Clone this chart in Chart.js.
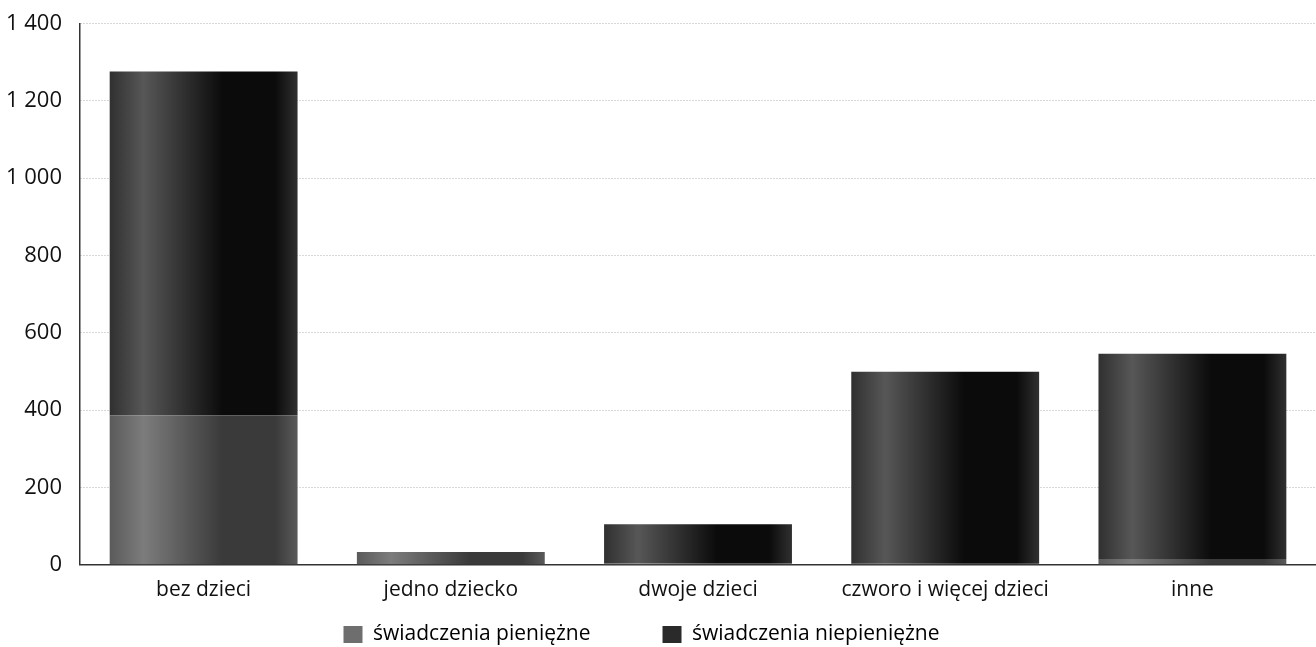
<!DOCTYPE html>
<html lang="pl">
<head>
  <meta charset="UTF-8">
  <title>Świadczenia</title>
  <script src="https://cdn.jsdelivr.net/npm/chart.js"></script>
  <style>
    body {
      margin: 0;
      background: #fff;
    }
    #wrap {
      width: 1316px;
      height: 647px;
    }
  </style>
</head>
<body>

<div id="wrap">
  <canvas id="barChart"></canvas>
</div>

<script>
const categories = ['bez dzieci', 'jedno dziecko', 'dwoje dzieci', 'czworo i więcej dzieci', 'inne'];
const pieniezne = [386, 33, 4, 3, 15];
const niepieniezne = [890, 0, 101, 496, 531];
const seriesNames = ['świadczenia pieniężne', 'świadczenia niepieniężne'];
const yTicks = [0, 200, 400, 600, 800, 1000, 1200, 1400];

const BAR_PCT = 0.76;

// shaded like a cylinder: light band near the left edge, darkest past the middle
function barFill(edge, light, dark) {
    return function(context) {
        const chart = context.chart;
        const xs = chart.scales.x;
        if (!chart.chartArea || !xs || context.dataIndex === undefined) return dark;
        const cx = xs.getPixelForValue(context.dataIndex);
        const half = (xs.width / categories.length) * BAR_PCT / 2;
        const g = chart.ctx.createLinearGradient(cx - half, 0, cx + half, 0);
        g.addColorStop(0, edge);
        g.addColorStop(0.18, light);
        g.addColorStop(0.6, dark);
        g.addColorStop(0.88, dark);
        g.addColorStop(1, edge);
        return g;
    };
}

const ctx = document.getElementById('barChart').getContext('2d');
new Chart(ctx, {
    type: 'bar',
    data: {
        labels: categories,
        datasets: [{
            label: seriesNames[0],
            data: pieniezne,
            backgroundColor: barFill('#5a5a5a', '#7c7c7c', '#3a3a3a'),
            barPercentage: BAR_PCT,
            categoryPercentage: 1
        }, {
            label: seriesNames[1],
            data: niepieniezne,
            backgroundColor: barFill('#303030', '#575757', '#0b0b0b'),
            barPercentage: BAR_PCT,
            categoryPercentage: 1
        }]
    },
    options: {
        responsive: true,
        maintainAspectRatio: false,
        animation: false,
        layout: { padding: { top: 0, right: 0, left: -12, bottom: -8 } },
        plugins: {
            tooltip: { enabled: false },
            legend: {
                position: 'bottom',
                labels: {
                    boxWidth: 19,
                    boxHeight: 17,
                    padding: 16,
                    color: '#111',
                    font: { family: 'Open Sans', size: 21 },
                    generateLabels: function(chart) {
                        const cols = ['#6e6e6e', '#2a2a2a'];
                        const tails = ['\u2003\u2003\u2002\u2009', '\u2003'];
                        return chart.data.datasets.map((ds, i) => ({
                            text: ds.label + tails[i],
                            fillStyle: cols[i],
                            strokeStyle: cols[i],
                            lineWidth: 0,
                            datasetIndex: i
                        }));
                    }
                }
            }
        },
        scales: {
            x: {
                stacked: true,
                grid: { display: false },
                border: { display: true, color: '#333', width: 1.5 },
                ticks: {
                    color: '#111',
                    padding: 5,
                    font: { family: 'Open Sans', size: 21 }
                }
            },
            y: {
                stacked: true,
                min: 0,
                max: 1400,
                afterBuildTicks: axis => { axis.ticks = yTicks.map(v => ({ value: v })); },
                grid: {
                    color: '#b0b0b0',
                    drawTicks: false
                },
                border: { display: true, color: '#333', width: 1.5, dash: [1, 2] },
                ticks: {
                    color: '#111',
                    padding: 18,
                    font: { family: 'Open Sans', size: 22, lineHeight: 0.5 },
                    callback: v => String(v).replace(/\B(?=(\d{3})+(?!\d))/g, ' ')
                }
            }
        }
    }
});
</script>

</body>
</html>
